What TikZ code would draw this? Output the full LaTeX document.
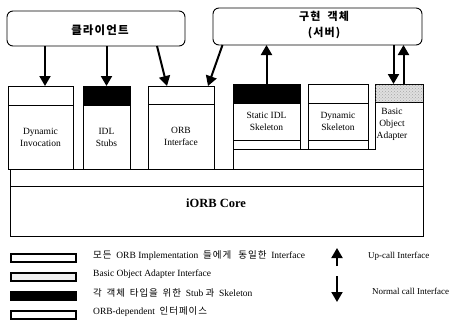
\documentclass[tikz,border=0pt]{standalone}
\usepackage{fontspec}
\setmainfont{Liberation Serif}
\newfontfamily\kr{Noto Sans CJK KR}
\newfontfamily\krs{Noto Sans CJK KR}[LetterSpace=10]
\usetikzlibrary{arrows.meta,patterns,calc}
\begin{document}
\begin{tikzpicture}[x=1pt,y=-1pt,
  blk/.style={draw,line width=0.8pt,inner sep=0pt,outer sep=0pt,anchor=north west},
  txt/.style={font=\fontsize{9.5}{12}\selectfont,align=center},
  dark/.style={fill=black},
  dots/.style={fill=gray!25,postaction={pattern=crosshatch dots,pattern color=gray!70}},
  arr/.style={line width=2pt,-{Triangle[length=10pt,width=11pt]}},
  cloud/.style={draw,line width=0.9pt,rounded corners=6pt,inner sep=0pt,outer sep=0pt,anchor=north west},
  legbox/.style={draw,line width=1.2pt,inner sep=0pt,outer sep=0pt,minimum width=65pt,minimum height=8pt,anchor=west},
  legtxt/.style={font=\fontsize{9.5}{11}\selectfont,anchor=west,inner sep=0pt}
]
\useasboundingbox (0,0) rectangle (459,324);

% top boxes
\node[cloud,minimum width=178pt,minimum height=35pt] (client) at (7,11) {};
\node[font=\krs\bfseries\fontsize{11.5}{13}\selectfont] (clientT) at (100,30) {클라이언트};
\node[cloud,minimum width=209pt,minimum height=37pt] (server) at (213,8) {};
\node[font=\krs\bfseries\fontsize{11}{16}\selectfont,align=center] (serverT) at (324,25) {구현\ \ 객체\\(서버)};

% client side blocks
\node[blk,minimum width=65pt,minimum height=19pt] (diT) at (8,86) {};
\node[blk,txt,minimum width=65pt,minimum height=64pt] (diB) at (8,105) {Dynamic\\Invocation};
\node[blk,dark,minimum width=47pt,minimum height=19pt] (stT) at (83,86) {};
\node[blk,txt,minimum width=47pt,minimum height=64pt] (stB) at (83,105) {IDL\\Stubs};
\node[blk,minimum width=66pt,minimum height=18pt] (oiT) at (148,86) {};
\node[blk,txt,minimum width=66pt,minimum height=65pt] (oiB) at (148,104) {ORB\\Interface};

% server side blocks
\node[blk,dark,minimum width=67pt,minimum height=19pt] (sisT) at (233,84) {};
\node[blk,txt,minimum width=67pt,minimum height=37pt] (sisB) at (233,103) {Static IDL\\Skeleton};
\node[blk,minimum width=67pt,minimum height=9pt] (sisL) at (233,140) {};
\node[blk,minimum width=60pt,minimum height=19pt] (dsT) at (308,84) {};
\node[blk,txt,minimum width=60pt,minimum height=37pt] (dsB) at (308,103) {Dynamic\\Skeleton};
\node[blk,minimum width=60pt,minimum height=9pt] (dsL) at (308,140) {};
\node[blk,dots,minimum width=48pt,minimum height=18pt] (boaT) at (375,84) {};
\node[inner sep=0pt,outer sep=0pt,anchor=north west,minimum width=48pt,minimum height=47pt] (boaB) at (375,102) {};
\node[txt] (boaTxt) at (392,124) {Basic\\Object\\Adapter};

% core layers
\node[blk,minimum width=413pt,minimum height=17pt] (orb) at (10,169) {};
\node[blk,minimum width=413pt,minimum height=50pt] (core) at (10,186) {};
\node[font=\bfseries\fontsize{12.5}{14}\selectfont] (coreT) at (216,203) {iORB Core};
\draw[line width=0.8pt] (boaB.north west) -- (boaB.south west) -- (sisL.south west)
  -- (sisL.south west |- orb.north) -- (orb.north east) -- (boaT.south east);

% arrows
\draw[arr] ([xshift=4.5pt]diT.north |- client.south) -- ([xshift=4.5pt]diT.north);
\draw[arr] (stT.north |- client.south) -- (stT.north);
\draw[arr] ([xshift=-24pt]oiT.north |- client.south) -- ([xshift=-14pt]oiT.north);
\draw[arr] ([xshift=-95pt]server.south) -- ([xshift=27pt]oiT.north);
\draw[arr] (sisT.north) -- (sisT.north |- server.south);
\draw[arr] ([xshift=-5.5pt]boaT.north |- server.south) -- ([xshift=-5.5pt]boaT.north);
\draw[arr] ([xshift=4.5pt]boaT.north) -- ([xshift=4.5pt]boaT.north |- server.south);

% legend
\node[legbox] (lg1) at (11,258) {};
\node[legbox,fill=gray!12] (lg2) at (11,277) {};
\node[legbox,fill=black] (lg3) at (11,296) {};
\node[legbox] (lg4) at (11,315) {};
\node[legtxt] (lt1) at (93,256) {{\krs 모든}\ \ ORB Implementation\ \ {\krs 들에게}\ \ \ {\krs 동일한}\ \ Interface};
\node[legtxt] (lt2) at (93,274) {Basic Object Adapter Interface};
\node[legtxt] (lt3) at (93,293) {{\krs 각}\ \ {\krs 객체}\ \ {\krs 타입을}\ \ {\krs 위한}\ \ Stub\ {\krs 과}\ \ Skeleton};
\node[legtxt] (lt4) at (93,312) {ORB-dependent\ \ {\krs 인터페이스}};
\coordinate (upT) at (337,266);
\coordinate (upH) at (337,248);
\coordinate (dnT) at (337,276);
\coordinate (dnH) at (337,302);
\draw[arr] (upT) -- (upH);
\draw[arr] (dnT) -- (dnH);
\node[legtxt,font=\fontsize{9}{10}\selectfont] (ut) at (368,256) {Up-call Interface};
\node[legtxt,font=\fontsize{9}{10}\selectfont] (nt) at (372,291) {Normal call Interface};
\end{tikzpicture}
\end{document}
